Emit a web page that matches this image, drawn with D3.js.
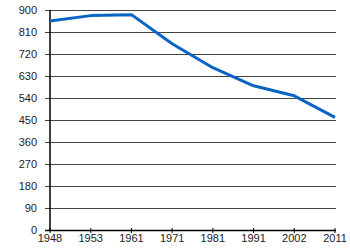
<!DOCTYPE html>
<html>
<head>
<meta charset="utf-8">
<script src="https://cdn.jsdelivr.net/npm/d3@7"></script>
<style>
  body { margin: 0; background: #fff; }
  text { font-family: "Liberation Sans", Arial, sans-serif; font-size: 11px; fill: #222; }
</style>
</head>
<body>
<div id="chart"></div>
<script>
var years = ["1948", "1953", "1961", "1971", "1981", "1991", "2002", "2011"];
var values = [855, 877, 881, 762, 664, 590, 549, 461];
var yTicks = [0, 90, 180, 270, 360, 450, 540, 630, 720, 810, 900];

var width = 350, height = 250;
var plotLeft = 50, plotRight = 335, plotTop = 10, plotBottom = 230;

var svg = d3.select("#chart").append("svg")
    .attr("width", width)
    .attr("height", height);

var x = d3.scalePoint().domain(years).range([plotLeft, plotRight]);
var y = d3.scaleLinear().domain([0, 900]).range([plotBottom, plotTop]);

// gridlines
svg.append("g")
    .selectAll("line")
    .data(yTicks.slice(1))
    .enter().append("line")
    .attr("x1", plotLeft - 5)
    .attr("x2", plotRight + 1)
    .attr("y1", function (d) { return y(d) + 0.5; })
    .attr("y2", function (d) { return y(d) + 0.5; })
    .attr("stroke", "#444")
    .attr("stroke-width", 1);

// y labels
svg.append("g")
    .selectAll("text")
    .data(yTicks)
    .enter().append("text")
    .attr("x", 37)
    .attr("y", function (d) { return y(d) + 4; })
    .attr("text-anchor", "end")
    .text(function (d) { return d; });

// axes
svg.append("line")
    .attr("x1", plotLeft).attr("x2", plotLeft)
    .attr("y1", plotTop).attr("y2", plotBottom + 1)
    .attr("stroke", "#000").attr("stroke-width", 1.5);
svg.append("line")
    .attr("x1", plotLeft - 5).attr("x2", plotRight + 1)
    .attr("y1", plotBottom + 0.5).attr("y2", plotBottom + 0.5)
    .attr("stroke", "#000").attr("stroke-width", 1.5);

// x ticks and labels
svg.append("g")
    .selectAll("line")
    .data(years)
    .enter().append("line")
    .attr("x1", function (d) { return x(d); })
    .attr("x2", function (d) { return x(d); })
    .attr("y1", plotBottom - 2)
    .attr("y2", plotBottom + 3)
    .attr("stroke", "#000");

svg.append("g")
    .selectAll("text")
    .data(years)
    .enter().append("text")
    .attr("x", function (d) { return x(d); })
    .attr("y", 242)
    .attr("text-anchor", "middle")
    .text(function (d) { return d; });

// data line
var line = d3.line()
    .x(function (d, i) { return x(years[i]); })
    .y(function (d) { return y(d); });

svg.append("path")
    .datum(values)
    .attr("d", line)
    .attr("fill", "none")
    .attr("stroke", "#0a64c6")
    .attr("stroke-width", 3)
    .attr("stroke-linejoin", "round");
</script>
</body>
</html>
